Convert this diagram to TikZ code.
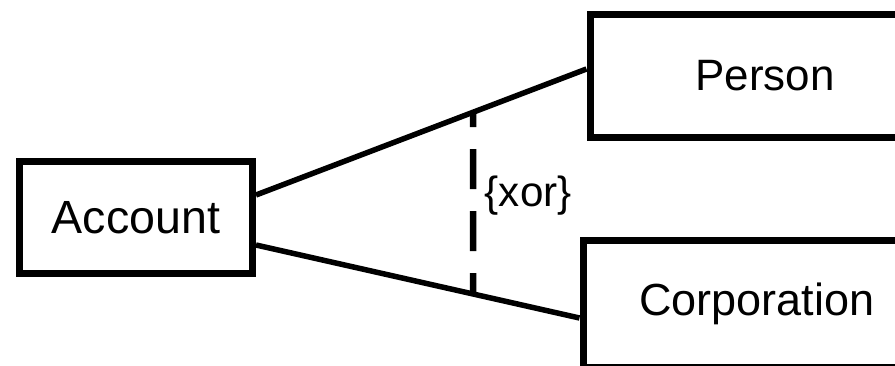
\documentclass[tikz,border=0pt]{standalone}
\usepackage{fontspec}
\setmainfont{Liberation Sans}
\usetikzlibrary{positioning}

\begin{document}
\begin{tikzpicture}[
    cls/.style={draw, line width=0.14cm, minimum width=4.66cm, minimum height=2.24cm,
                font=\fontsize{25}{30}\selectfont},
    assoc/.style={line width=0.11cm},
    constraint/.style={line width=0.13cm, dash pattern=on 0.8cm off 0.44cm, dash phase=0.5cm}
    ]
    \useasboundingbox (0,0) rectangle (17.9,7.3);

    \node [cls, font=\fontsize{26.5}{30}\selectfont] (acc) at (2.72,2.95) {Account};
    \node [cls, anchor=west, minimum width=7cm, minimum height=2.45cm,
           right=6.61cm of acc, yshift=2.83cm] (per) {Person};
    \node [cls, anchor=west, minimum width=6.96cm, minimum height=2.54cm,
           font=\fontsize{25.6}{30}\selectfont,
           right=6.47cm of acc, yshift=-1.72cm] (corp) {Corporation};

    \draw [assoc] ([yshift=0.45cm]acc.east) -- coordinate[pos=0.657] (xtop) ([yshift=0.14cm]per.west);
    \draw [assoc] ([yshift=-0.55cm]acc.east) -- coordinate[pos=0.671] (xbot) ([yshift=-0.29cm]corp.west);

    % xor constraint between the two associations
    \draw [constraint] (xtop) -- node[pos=0.46, anchor=west, inner sep=0.17cm,
        font=\fontsize{24}{28}\selectfont] (xor) {\{xor\}} (xbot);
\end{tikzpicture}
\end{document}
